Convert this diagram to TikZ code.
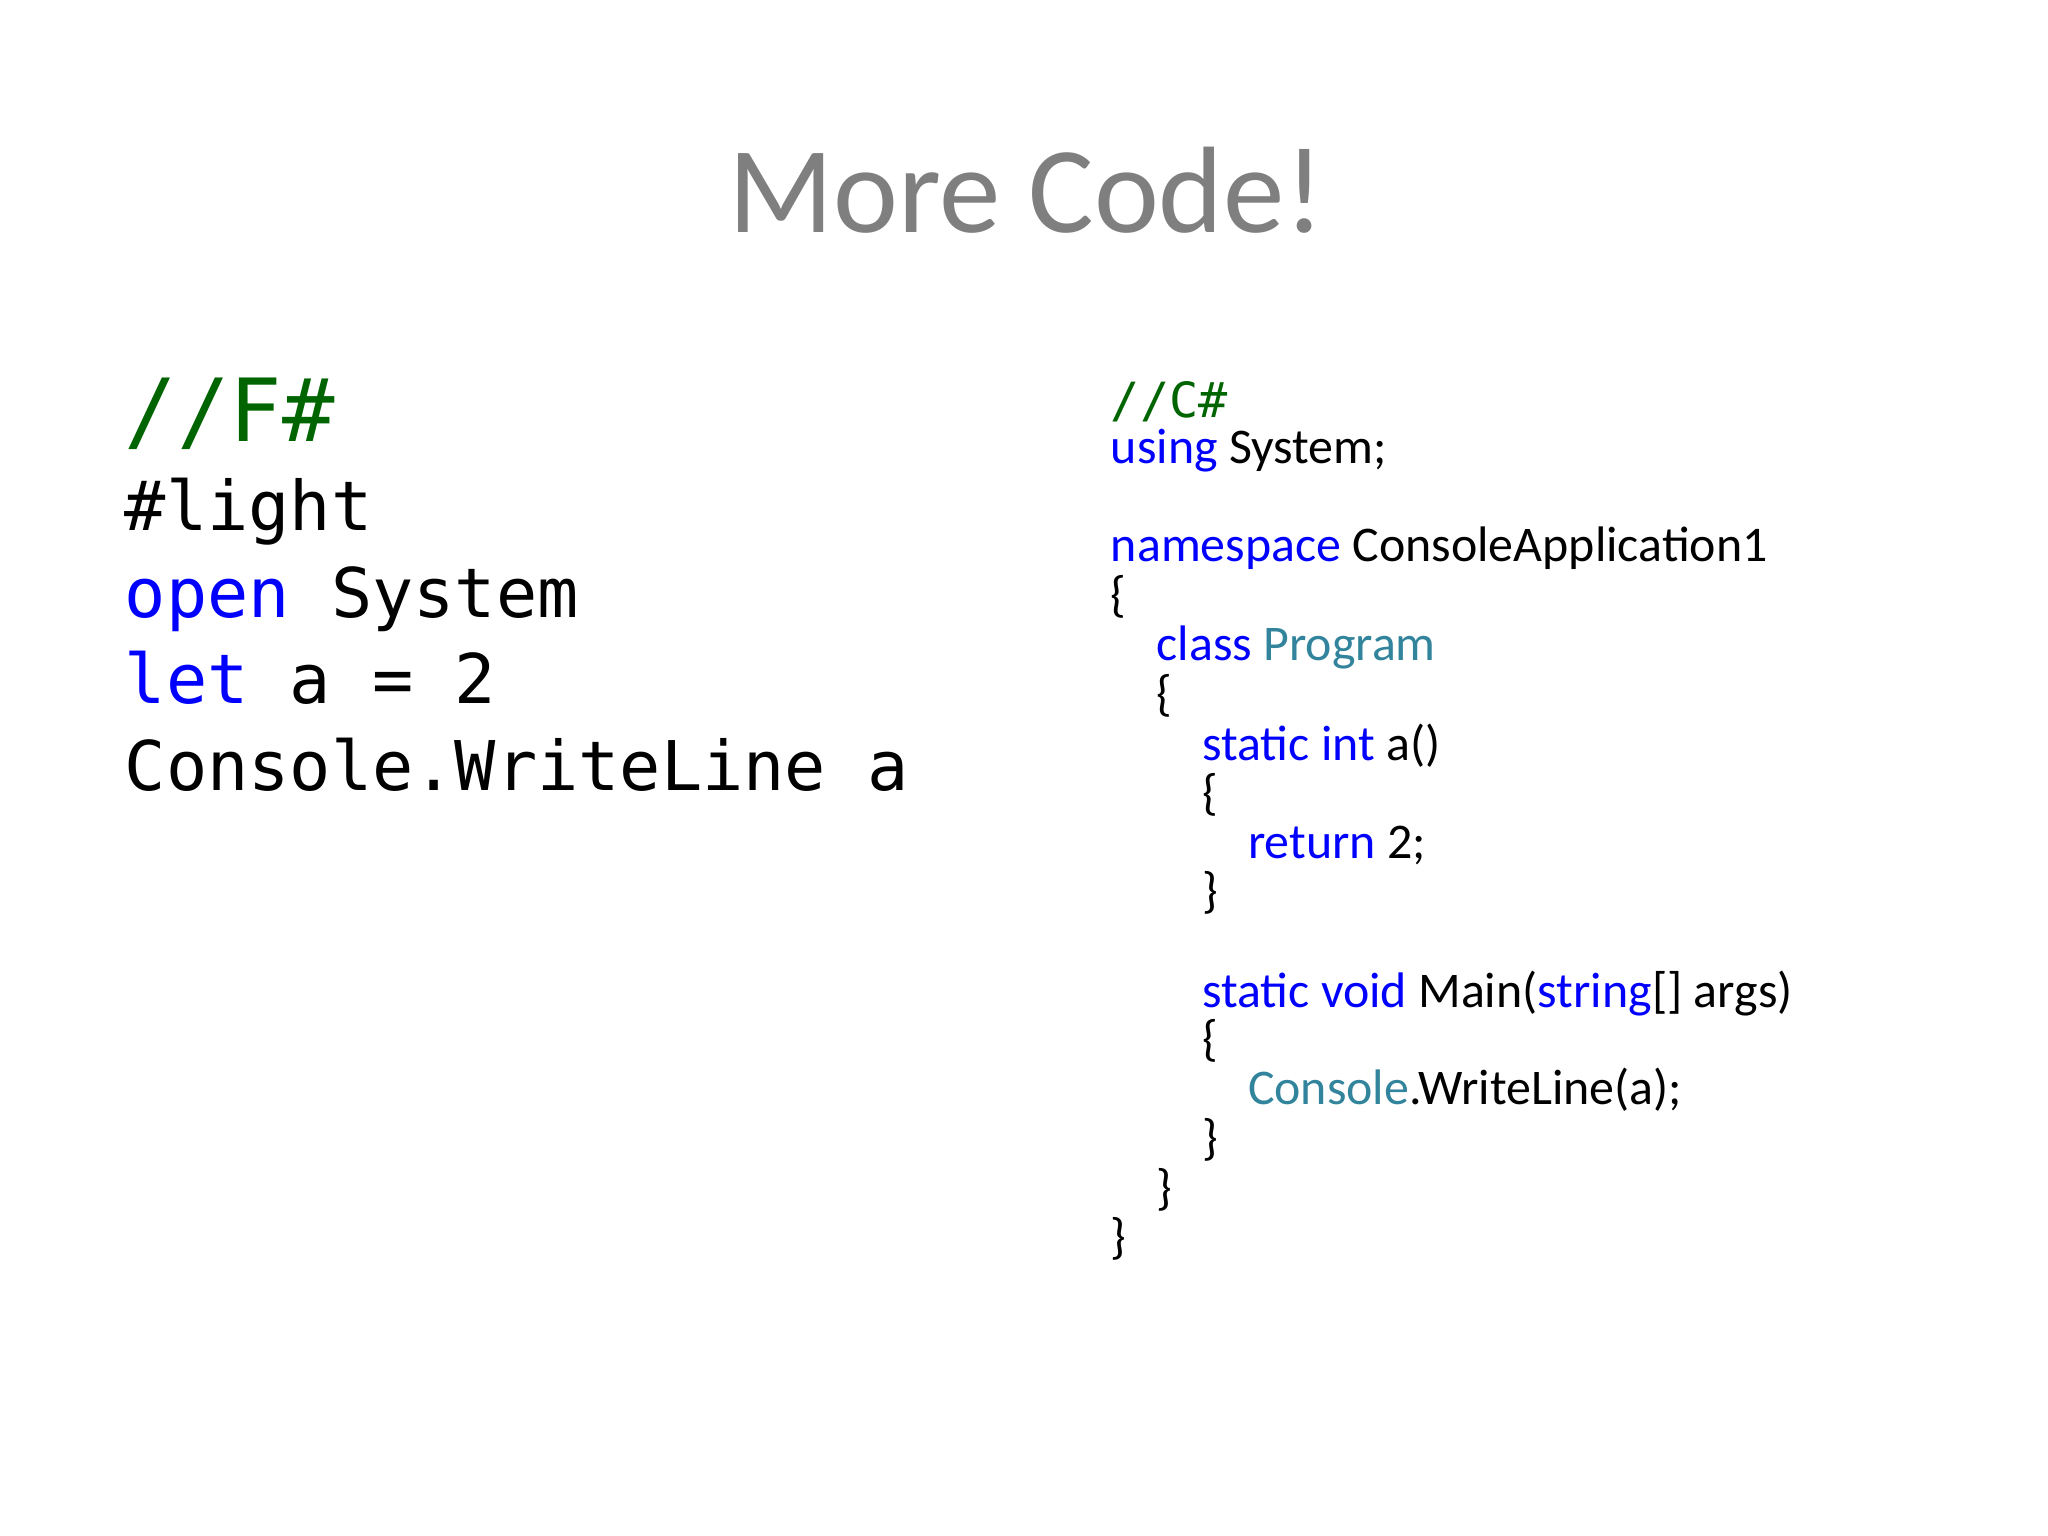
\documentclass[tikz,border=0pt]{standalone}
\usepackage{fontspec}
\setmainfont{Carlito}
\newfontfamily\fsmono{DejaVu Sans Mono}
\definecolor{kw}{HTML}{0000FF}
\definecolor{cm}{HTML}{006400}
\definecolor{ty}{HTML}{31849B}
\definecolor{tt}{HTML}{7F7F7F}
\begin{document}
\begin{tikzpicture}[x=0.01306cm,y=-0.01306cm,
  fs/.style={anchor=base west,inner sep=0pt,font=\fsmono\fontsize{19.5}{24}\selectfont},
  cs/.style={anchor=base west,inner sep=0pt,font=\fontsize{14.2}{15}\selectfont}]
\useasboundingbox (0,0) rectangle (1568,1176);
\node[anchor=base,inner sep=0pt,text=tt,font=\fontsize{35}{42}\selectfont] (title) at (786,178) {More Code!};
% F#
\node[anchor=base west,inner sep=0pt,text=cm,font=\fsmono\fontsize{24.8}{28}\selectfont] (f1) at (95,338) {//F\#};
\node[fs] (f2) at (95,406) {\#light};
\node[fs] (f3) at (95,473) {\textcolor{kw}{open} System};
\node[fs] (f4) at (95,539) {\textcolor{kw}{let} a = 2};
\node[fs] (f5) at (95,605) {Console.WriteLine a};
% C#
\node[anchor=base west,inner sep=0pt,text=cm,font=\fsmono\fontsize{13.8}{15}\selectfont] (c1) at (850,320) {//C\#};
\node[cs] (c2) at (850,355) {\textcolor{kw}{using} System;};
\node[cs] (c3) at (850,430) {\textcolor{kw}{namespace} ConsoleApplication1};
\node[cs] (c4) at (850,468) {\{};
\node[cs] (c5) at (885,506) {\textcolor{kw}{class} \textcolor{ty}{Program}};
\node[cs] (c6) at (885,544) {\{};
\node[cs] (c7) at (920,582) {\textcolor{kw}{static int} a()};
\node[cs] (c8) at (920,620) {\{};
\node[cs] (c9) at (955,657) {\textcolor{kw}{return} 2;};
\node[cs] (c10) at (920,695) {\}};
\node[cs] (c11) at (920,771) {\textcolor{kw}{static void} Main(\textcolor{kw}{string}[] args)};
\node[cs] (c12) at (920,808) {\{};
\node[cs] (c13) at (955,846) {\textcolor{ty}{Console}.WriteLine(a);};
\node[cs] (c14) at (920,884) {\}};
\node[cs] (c15) at (885,922) {\}};
\node[cs] (c16) at (850,960) {\}};
\end{tikzpicture}
\end{document}
